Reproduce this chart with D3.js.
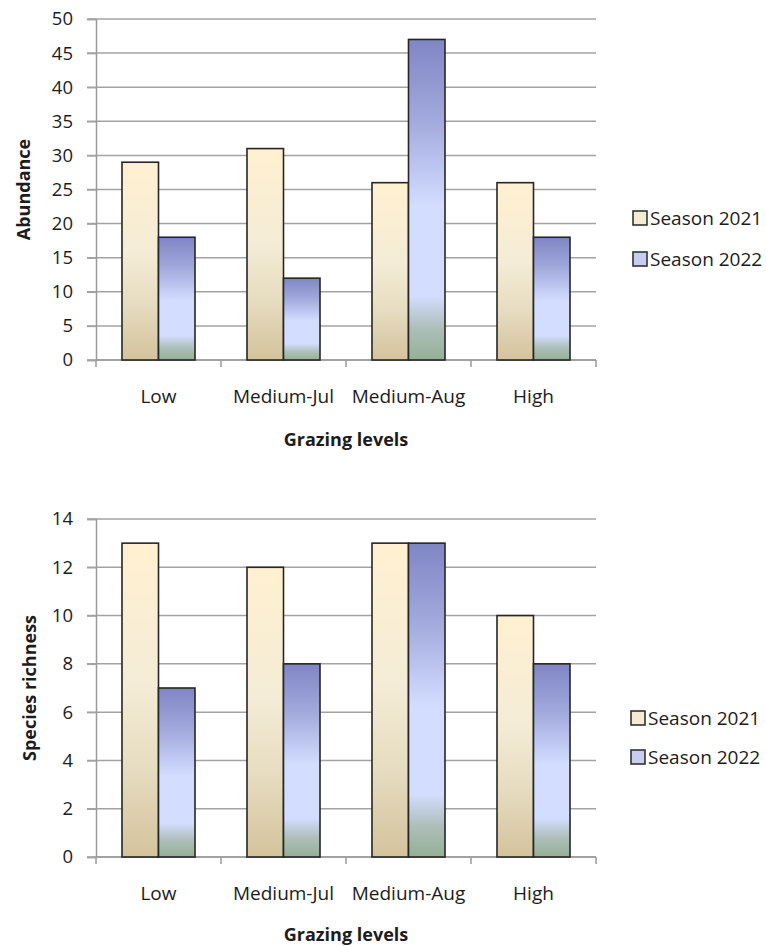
<!DOCTYPE html>
<html>
<head>
<meta charset="utf-8">
<script src="https://cdn.jsdelivr.net/npm/d3@7"></script>
<style>
  html, body { margin: 0; padding: 0; background: #fff; }
  svg { display: block; font-family: "Open Sans", "Noto Sans", sans-serif; }
</style>
</head>
<body>
<svg id="chart" width="766" height="946"></svg>
<script>
// Grazing categories shared by both panels
const categories = ["Low", "Medium-Jul", "Medium-Aug", "High"];
const seasons = ["Season 2021", "Season 2022"];

// Panel 1: abundance per grazing level
const abundance2021 = [29, 31, 26, 26];
const abundance2022 = [18, 12, 47, 18];
const abundanceTicks = [0, 5, 10, 15, 20, 25, 30, 35, 40, 45, 50];

// Panel 2: species richness per grazing level
const richness2021 = [13, 12, 13, 10];
const richness2022 = [7, 8, 13, 8];
const richnessTicks = [0, 2, 4, 6, 8, 10, 12, 14];

const svg = d3.select("#chart");
const defs = svg.append("defs");

// Vertical gradients used for the bar fills (per bar bounding box)
function addGradient(id, stops) {
  const g = defs.append("linearGradient")
    .attr("id", id).attr("x1", 0).attr("y1", 0).attr("x2", 0).attr("y2", 1);
  g.selectAll("stop").data(stops).join("stop")
    .attr("offset", d => d[0]).attr("stop-color", d => d[1]);
}
addGradient("g2021", [[0, "#fff0d0"], [0.45, "#f4ecd6"], [0.72, "#e6dcc0"], [1, "#d4c39c"]]);
addGradient("g2022", [[0, "#7f86c4"], [0.25, "#a2a9dc"], [0.52, "#d3ddff"], [0.8, "#d3ddff"], [0.9, "#aebfba"], [1, "#94b094"]]);

const fills = ["url(#g2021)", "url(#g2022)"];
const legendFills = ["#f3ebd2", "#c9cdf0"];
const textColor = "#1c1c1c";

function drawPanel(cfg) {
  const { left, right, top, bottom, max, ticks, s1, s2, yTitle, yTitleX, legendY } = cfg;
  const g = svg.append("g");

  const y = d3.scaleLinear().domain([0, max]).range([bottom, top]);
  const x0 = d3.scaleBand().domain(categories).range([left, right])
    .paddingInner(0.416).paddingOuter(0.208);
  const x1 = d3.scaleBand().domain(seasons).range([0, x0.bandwidth()]);

  // horizontal gridlines
  g.append("g").selectAll("line").data(ticks).join("line")
    .attr("x1", left - 9).attr("x2", right)
    .attr("y1", d => y(d)).attr("y2", d => y(d))
    .attr("stroke", "#a3a3a3").attr("stroke-width", 1.5);

  // y axis
  const yAxis = g.append("g").attr("transform", `translate(${left},0)`)
    .call(d3.axisLeft(y).tickValues(ticks).tickSize(9).tickPadding(14));
  yAxis.select(".domain").attr("stroke", "#9a9a9a").attr("stroke-width", 1.5);
  yAxis.selectAll(".tick line").attr("stroke", "#a3a3a3").attr("stroke-width", 1.5);
  yAxis.selectAll(".tick text").attr("font-size", 18.5).attr("fill", textColor)
    .attr("font-family", "'Open Sans', sans-serif");

  // category tick marks at band boundaries
  const step = x0.step();
  const bounds = d3.range(categories.length + 1).map(i => left + i * step);
  g.append("line").attr("x1", left).attr("x2", right).attr("y1", bottom).attr("y2", bottom)
    .attr("stroke", "#9a9a9a").attr("stroke-width", 1.5);
  g.append("g").selectAll("line").data(bounds).join("line")
    .attr("x1", d => d).attr("x2", d => d).attr("y1", bottom).attr("y2", bottom + 7)
    .attr("stroke", "#9a9a9a").attr("stroke-width", 1.5);

  // category labels
  g.append("g").selectAll("text").data(categories).join("text")
    .attr("x", d => x0(d) + x0.bandwidth() / 2)
    .attr("y", bottom + 43)
    .attr("text-anchor", "middle").attr("font-size", 19).attr("fill", textColor)
    .text(d => d);

  // bars
  const rows = categories.map((c, i) => ({ cat: c, vals: [s1[i], s2[i]] }));
  g.append("g").selectAll("g").data(rows).join("g")
    .attr("transform", d => `translate(${x0(d.cat)},0)`)
    .selectAll("rect").data(d => d.vals.map((v, k) => ({ v, k })))
    .join("rect")
    .attr("x", d => x1(seasons[d.k]))
    .attr("width", x1.bandwidth())
    .attr("y", d => y(d.v))
    .attr("height", d => y(0) - y(d.v))
    .attr("fill", d => fills[d.k])
    .attr("stroke", "#262626").attr("stroke-width", 1.6);

  // axis titles
  g.append("text")
    .attr("transform", `translate(${yTitleX},${(top + bottom) / 2}) rotate(-90)`)
    .attr("text-anchor", "middle").attr("font-size", 18).attr("font-weight", "bold")
    .attr("fill", textColor).text(yTitle);
  g.append("text")
    .attr("x", (left + right) / 2).attr("y", bottom + cfg.xTitleOffset)
    .attr("text-anchor", "middle").attr("font-size", 18).attr("font-weight", "bold")
    .attr("fill", textColor).text("Grazing levels");

  // legend
  const lg = g.append("g").selectAll("g").data(seasons).join("g")
    .attr("transform", (d, i) => `translate(${cfg.legendX},${legendY[i]})`);
  lg.append("rect").attr("x", 0).attr("y", -7).attr("width", 14).attr("height", 14)
    .attr("fill", (d, i) => legendFills[i]).attr("stroke", "#333").attr("stroke-width", 1.6);
  lg.append("text").attr("x", 17).attr("y", 7)
    .attr("font-size", 19).attr("fill", textColor).text(d => d);
}

drawPanel({
  left: 96, right: 596, top: 19, bottom: 360, max: 50, ticks: abundanceTicks,
  s1: abundance2021, s2: abundance2022, yTitle: "Abundance", yTitleX: 30,
  legendX: 633, legendY: [218, 259], xTitleOffset: 86
});

drawPanel({
  left: 96, right: 596, top: 519, bottom: 857, max: 14, ticks: richnessTicks,
  s1: richness2021, s2: richness2022, yTitle: "Species richness", yTitleX: 36,
  legendX: 631, legendY: [718, 757], xTitleOffset: 84
});
</script>
</body>
</html>
